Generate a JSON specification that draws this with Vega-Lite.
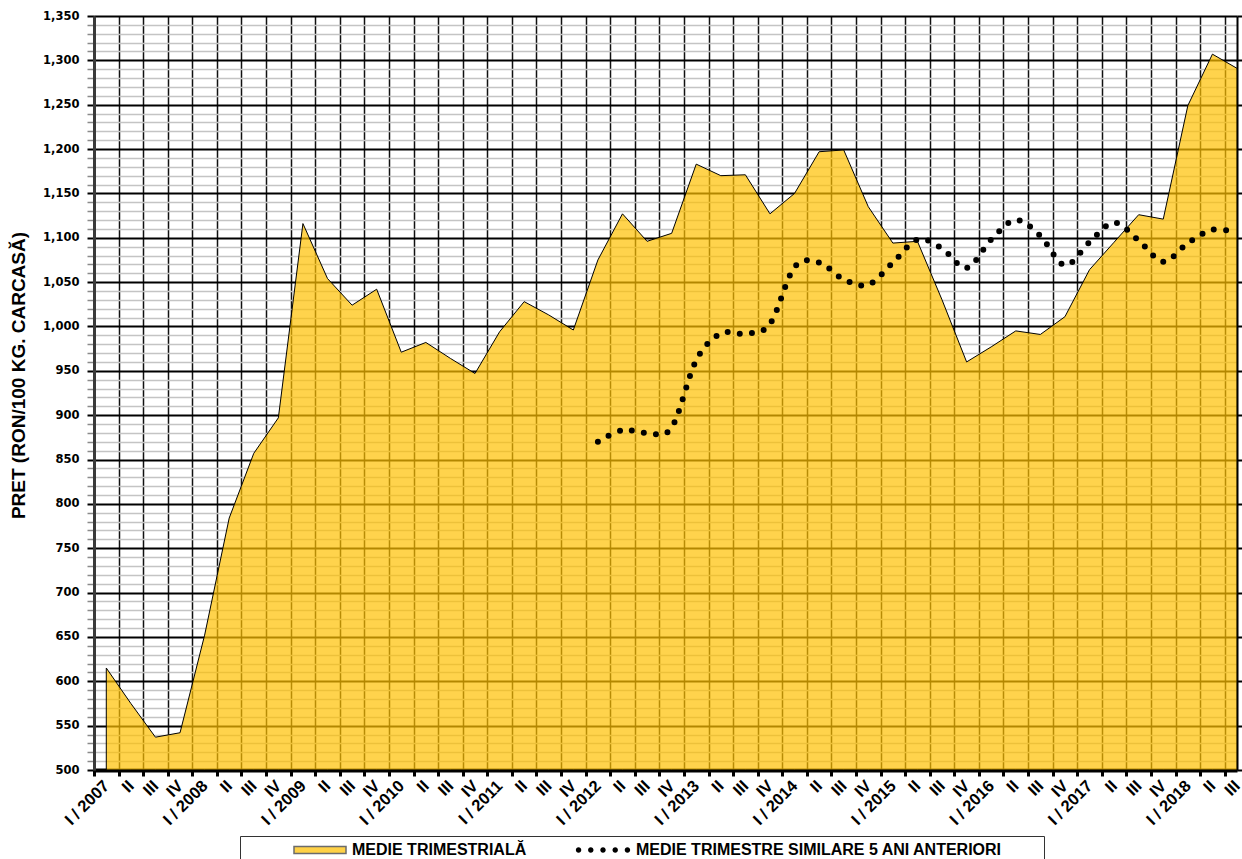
{
  "$schema": "https://vega.github.io/schema/vega-lite/v6.json",
  "width": 1143,
  "height": 754,
  "autosize": {"type": "none"},
  "padding": {"left": 94, "top": 16, "right": 5, "bottom": 89},
  "background": "white",
  "config": {"view": {"stroke": null}},
  "datasets": {
    "trim": [
      {"i": 0, "v": 615}, {"i": 1, "v": 575}, {"i": 2, "v": 537}, {"i": 3, "v": 542},
      {"i": 4, "v": 652}, {"i": 5, "v": 784}, {"i": 6, "v": 857}, {"i": 7, "v": 897},
      {"i": 8, "v": 1116}, {"i": 9, "v": 1054}, {"i": 10, "v": 1024}, {"i": 11, "v": 1042},
      {"i": 12, "v": 971}, {"i": 13, "v": 982}, {"i": 14, "v": 964}, {"i": 15, "v": 947},
      {"i": 16, "v": 994}, {"i": 17, "v": 1028}, {"i": 18, "v": 1013}, {"i": 19, "v": 996},
      {"i": 20, "v": 1075}, {"i": 21, "v": 1127}, {"i": 22, "v": 1096}, {"i": 23, "v": 1105},
      {"i": 24, "v": 1183}, {"i": 25, "v": 1170}, {"i": 26, "v": 1171}, {"i": 27, "v": 1127},
      {"i": 28, "v": 1150}, {"i": 29, "v": 1197}, {"i": 30, "v": 1199}, {"i": 31, "v": 1135},
      {"i": 32, "v": 1094}, {"i": 33, "v": 1096}, {"i": 34, "v": 1030}, {"i": 35, "v": 960},
      {"i": 36, "v": 977}, {"i": 37, "v": 995}, {"i": 38, "v": 991}, {"i": 39, "v": 1011},
      {"i": 40, "v": 1064}, {"i": 41, "v": 1095}, {"i": 42, "v": 1126}, {"i": 43, "v": 1121},
      {"i": 44, "v": 1249}, {"i": 45, "v": 1307}, {"i": 46, "v": 1291}
    ],
    "prev": [
      {"i": 20, "v": 870}, {"i": 21, "v": 883}, {"i": 22, "v": 880}, {"i": 23, "v": 886},
      {"i": 24, "v": 962}, {"i": 25, "v": 992}, {"i": 26, "v": 992}, {"i": 27, "v": 1003},
      {"i": 28, "v": 1067}, {"i": 29, "v": 1072}, {"i": 30, "v": 1053}, {"i": 31, "v": 1047},
      {"i": 32, "v": 1072}, {"i": 33, "v": 1098}, {"i": 34, "v": 1088}, {"i": 35, "v": 1066},
      {"i": 36, "v": 1098}, {"i": 37, "v": 1120}, {"i": 38, "v": 1102}, {"i": 39, "v": 1069},
      {"i": 40, "v": 1095}, {"i": 41, "v": 1117}, {"i": 42, "v": 1097}, {"i": 43, "v": 1073},
      {"i": 44, "v": 1094}, {"i": 45, "v": 1109}, {"i": 46, "v": 1106}
    ]
  },
  "encoding": {
    "x": {
      "field": "i",
      "type": "quantitative",
      "scale": {"domain": [-0.5, 46], "nice": false, "zero": false},
      "axis": {
        "values": [-0.5,0,0.5,1,1.5,2,2.5,3,3.5,4,4.5,5,5.5,6,6.5,7,7.5,8,8.5,9,9.5,10,10.5,11,11.5,12,12.5,13,13.5,14,14.5,15,15.5,16,16.5,17,17.5,18,18.5,19,19.5,20,20.5,21,21.5,22,22.5,23,23.5,24,24.5,25,25.5,26,26.5,27,27.5,28,28.5,29,29.5,30,30.5,31,31.5,32,32.5,33,33.5,34,34.5,35,35.5,36,36.5,37,37.5,38,38.5,39,39.5,40,40.5,41,41.5,42,42.5,43,43.5,44,44.5,45,45.5,46],
        "title": null,
        "grid": true,
        "gridColor": "#111111",
        "gridWidth": 1.5,
        "gridOpacity": {"condition": {"test": "datum.value % 1 !== 0", "value": 1}, "value": 0},
        "ticks": true,
        "tickColor": "black",
        "tickWidth": 3,
        "tickSize": 6,
        "tickOpacity": {"condition": {"test": "datum.value % 1 !== 0", "value": 1}, "value": 0},
        "domain": true,
        "domainColor": "black",
        "domainWidth": 4,
        "labelExpr": "datum.value % 1 !== 0 ? '' : datum.value % 4 === 0 ? 'I / ' + (2007 + datum.value / 4) : datum.value % 4 === 1 ? 'II' : datum.value % 4 === 2 ? 'III' : 'IV'",
        "labelAngle": -45,
        "labelAlign": "right",
        "labelBaseline": "middle",
        "labelFont": "Liberation Sans",
        "labelFontSize": 16.5,
        "labelFontWeight": "bold",
        "labelColor": "black",
        "labelPadding": 7,
        "labelOverlap": false,
        "labelBound": false,
        "labelFlush": false,
        "labelLimit": 200
      }
    }
  },
  "layer": [
    {
      "data": {"name": "trim"},
      "mark": {"type": "area", "fillOpacity": 0.7, "stroke": "black", "strokeWidth": 1, "strokeOpacity": 1},
      "encoding": {
        "y": {
          "field": "v",
          "type": "quantitative",
          "scale": {"domain": [500, 1350], "nice": false, "zero": false},
          "axis": {
            "orient": "left",
            "values": [500,510,520,530,540,550,560,570,580,590,600,610,620,630,640,650,660,670,680,690,700,710,720,730,740,750,760,770,780,790,800,810,820,830,840,850,860,870,880,890,900,910,920,930,940,950,960,970,980,990,1000,1010,1020,1030,1040,1050,1060,1070,1080,1090,1100,1110,1120,1130,1140,1150,1160,1170,1180,1190,1200,1210,1220,1230,1240,1250,1260,1270,1280,1290,1300,1310,1320,1330,1340,1350],
            "title": "PRET (RON/100 KG. CARCASĂ)",
            "titleFont": "Liberation Sans",
            "titleFontSize": 19,
            "titleFontWeight": "bold",
            "titleColor": "black",
            "titlePadding": 14,
            "titleY": 359,
            "grid": true,
            "gridColor": {"condition": {"test": "datum.value % 50 === 0", "value": "black"}, "value": "#c4c4c4"},
            "gridWidth": {"condition": {"test": "datum.value % 50 === 0", "value": 2.2}, "value": 1.6},
            "domainColor": "#3a3a3a",
            "domainWidth": 3,
            "tickColor": {"condition": {"test": "datum.value % 50 === 0", "value": "black"}, "value": "#8a8a8a"},
            "tickWidth": {"condition": {"test": "datum.value % 50 === 0", "value": 2}, "value": 1.5},
            "tickSize": 7,
            "labelExpr": "datum.value % 50 === 0 ? format(datum.value, ',') : ''",
            "labelFont": "DejaVu Sans",
            "labelFontSize": 11.5,
            "labelFontWeight": "bold",
            "labelColor": "black",
            "labelPadding": 8,
            "labelOverlap": false,
            "labelBound": false,
            "labelFlush": false
          }
        },
        "y2": {"datum": 500},
        "color": {
          "datum": "MEDIE TRIMESTRIALĂ",
          "type": "nominal",
          "scale": {"domain": ["MEDIE TRIMESTRIALĂ"], "range": ["#FFC000"]},
          "legend": {
            "orient": "none",
            "legendX": 146,
            "legendY": 820,
            "direction": "horizontal",
            "title": " ",
            "titleOrient": "right",
            "titlePadding": 512,
            "strokeColor": "#333",
            "fillColor": "white",
            "padding": 6,
            "symbolSize": 2704,
            "clipHeight": 16,
            "symbolType": "M-1,-0.13H1V0.13H-1Z",
            "symbolStrokeWidth": 1.5,
            "symbolStrokeColor": "#333333",
            "symbolOpacity": 0.72,
            "symbolOffset": 47,
            "labelOffset": 5,
            "labelFont": "Liberation Sans",
            "labelFontSize": 16,
            "labelFontWeight": "bold",
            "labelColor": "black",
            "labelLimit": 600
          }
        }
      }
    },
    {
      "data": {"name": "prev"},
      "mark": {"type": "line", "color": "black", "interpolate": "cardinal", "strokeWidth": 6, "strokeCap": "round"},
      "encoding": {
        "y": {
          "field": "v",
          "type": "quantitative",
          "scale": {"domain": [500, 1350], "nice": false, "zero": false},
          "axis": {
            "orient": "right",
            "values": [500,550,600,650,700,750,800,850,900,950,1000,1050,1100,1150,1200,1250,1300,1350],
            "title": null,
            "grid": false,
            "labels": false,
            "domainColor": "black",
            "domainWidth": 2,
            "tickColor": "black",
            "tickWidth": 2,
            "tickSize": 6
          }
        },
        "strokeDash": {
          "datum": "MEDIE TRIMESTRE SIMILARE 5 ANI ANTERIORI",
          "type": "nominal",
          "scale": {"domain": ["MEDIE TRIMESTRE SIMILARE 5 ANI ANTERIORI"], "range": [[0, 12.2]]},
          "legend": {
            "orient": "none",
            "legendX": 435,
            "legendY": 826,
            "direction": "horizontal",
            "title": null,
            "padding": 0,
            "fillColor": "transparent",
            "symbolSize": 2704,
            "clipHeight": 16,
            "symbolType": "M-1.045,0a0.105,0.105 0 1,0 0.21,0a0.105,0.105 0 1,0 -0.21,0ZM-0.575,0a0.105,0.105 0 1,0 0.21,0a0.105,0.105 0 1,0 -0.21,0ZM-0.105,0a0.105,0.105 0 1,0 0.21,0a0.105,0.105 0 1,0 -0.21,0ZM0.365,0a0.105,0.105 0 1,0 0.21,0a0.105,0.105 0 1,0 -0.21,0ZM0.835,0a0.105,0.105 0 1,0 0.21,0a0.105,0.105 0 1,0 -0.21,0Z",
            "symbolFillColor": "black",
            "symbolStrokeWidth": 6,
            "symbolStrokeColor": "black",
            "symbolOffset": 45,
            "labelOffset": 4,
            "labelFont": "Liberation Sans",
            "labelFontSize": 16,
            "labelFontWeight": "bold",
            "labelColor": "black",
            "labelLimit": 600
          }
        }
      }
    }
  ],
  "resolve": {"axis": {"y": "independent"}}
}
